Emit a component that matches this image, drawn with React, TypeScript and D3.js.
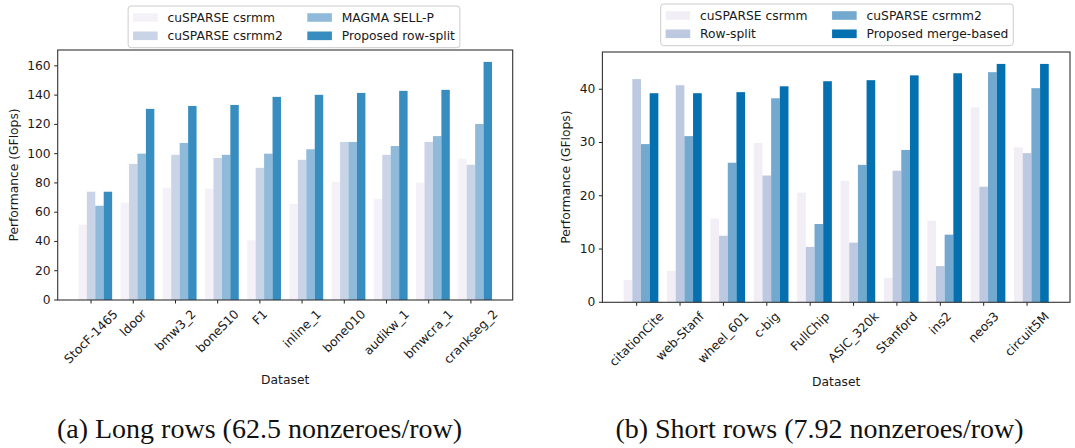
import React, { useEffect, useRef } from "react";
import * as d3 from "d3";

// (a) Long rows
const longDatasets = ["StocF-1465", "ldoor", "bmw3_2", "boneS10", "F1", "inline_1", "bone010", "audikw_1", "bmwcra_1", "crankseg_2"];
const longCsrmm = [51.5, 66.5, 76.7, 76, 40.8, 65.8, 80.8, 69.2, 80.2, 96.5];
const longCsrmm2 = [74, 93, 99.2, 97, 90.3, 95.8, 108, 99.2, 108, 92.4];
const longMagma = [64.4, 100, 107.3, 99.2, 100, 103, 108, 105.2, 112, 120.3];
const longRowSplit = [74, 130.6, 132.6, 133.3, 138.8, 140.2, 141.5, 142.9, 143.6, 162.7];
const longTicks = [0, 20, 40, 60, 80, 100, 120, 140, 160];
const longSeriesNames = ["cuSPARSE csrmm", "cuSPARSE csrmm2", "MAGMA SELL-P", "Proposed row-split"];

// (b) Short rows
const shortDatasets = ["citationCite", "web-Stanf", "wheel_601", "c-big", "FullChip", "ASIC_320k", "Stanford", "ins2", "neos3", "circuit5M"];
const shortCsrmm = [4.2, 5.9, 15.7, 29.9, 20.6, 22.8, 4.6, 15.3, 36.6, 29.1];
const shortRowSplit = [41.9, 40.75, 12.5, 23.8, 10.4, 11.2, 24.7, 6.8, 21.7, 28.0];
const shortCsrmm2 = [29.7, 31.2, 26.2, 38.3, 14.7, 25.8, 28.6, 12.7, 43.2, 40.2];
const shortMerge = [39.25, 39.25, 39.45, 40.55, 41.5, 41.7, 42.6, 43.0, 44.75, 44.75];
const shortTicks = [0, 10, 20, 30, 40];
const shortSeriesNames = ["cuSPARSE csrmm", "Row-split", "cuSPARSE csrmm2", "Proposed merge-based"];

const palette = ["#f1eef6", "#bdc9e1", "#74a9cf", "#0570b0"];

const FONT = "DejaVu Sans, sans-serif";
const FS = 12.3;

type Panel = {
  datasets: string[];
  series: number[][];
  names: string[];
  ticks: number[];
  opacity: number;
  x0: number;
  x1: number;
  yTop: number;
  yBottom: number;
  yLabelX: number;
  xLabelY: number;
  legendCx: number;
  legendTop: number;
  caption: string;
  captionCx: number;
};

const panels: Panel[] = [
  {
    datasets: longDatasets,
    series: [longCsrmm, longCsrmm2, longMagma, longRowSplit],
    names: longSeriesNames,
    ticks: longTicks,
    opacity: 0.8,
    x0: 57.7,
    x1: 512.7,
    yTop: 50,
    yBottom: 300,
    yLabelX: 14,
    xLabelY: 384,
    legendCx: 294,
    legendTop: 6,
    caption: "(a) Long rows (62.5 nonzeroes/row)",
    captionCx: 259.5,
  },
  {
    datasets: shortDatasets,
    series: [shortCsrmm, shortRowSplit, shortCsrmm2, shortMerge],
    names: shortSeriesNames,
    ticks: shortTicks,
    opacity: 1,
    x0: 602.4,
    x1: 1070,
    yTop: 52,
    yBottom: 302.3,
    yLabelX: 566,
    xLabelY: 386,
    legendCx: 837,
    legendTop: 4,
    caption: "(b) Short rows (7.92 nonzeroes/row)",
    captionCx: 819.5,
  },
];

function drawPanel(svg: d3.Selection<SVGSVGElement, unknown, null, undefined>, p: Panel) {
  const g = svg.append("g");
  const n = p.datasets.length;
  const barW = 0.2;
  const lo = -0.2 - barW / 2;
  const hi = n - 1 + 0.4 + barW / 2;
  const m = (hi - lo) * 0.05;
  const x = d3.scaleLinear().domain([lo - m, hi + m]).range([p.x0, p.x1]);
  const yMax = (d3.max(p.series.flat()) as number) * 1.05;
  const y = d3.scaleLinear().domain([0, yMax]).range([p.yBottom, p.yTop]);

  // bars
  p.series.forEach((vals, k) => {
    g.append("g")
      .selectAll("rect")
      .data(vals)
      .join("rect")
      .attr("x", (_, i) => x(i + (k - 1) * barW - barW / 2))
      .attr("width", x(barW) - x(0))
      .attr("y", (d) => y(d))
      .attr("height", (d) => y(0) - y(d))
      .attr("fill", palette[k])
      .attr("fill-opacity", p.opacity);
  });

  // y ticks
  const yt = g.append("g");
  p.ticks.forEach((t) => {
    yt.append("line")
      .attr("x1", p.x0 - 3.5).attr("x2", p.x0)
      .attr("y1", y(t)).attr("y2", y(t))
      .attr("stroke", "#222").attr("stroke-width", 1);
    yt.append("text")
      .attr("x", p.x0 - 7).attr("y", y(t))
      .attr("text-anchor", "end").attr("dominant-baseline", "central")
      .attr("font-family", FONT).attr("font-size", FS).attr("fill", "#1a1a1a")
      .text(String(t));
  });

  // x ticks with rotated labels
  const xt = g.append("g");
  p.datasets.forEach((name, i) => {
    const cx = x(i);
    xt.append("line")
      .attr("x1", cx).attr("x2", cx)
      .attr("y1", p.yBottom).attr("y2", p.yBottom + 3.5)
      .attr("stroke", "#222").attr("stroke-width", 1);
    const t = xt.append("text")
      .attr("text-anchor", "middle").attr("dominant-baseline", "central")
      .attr("font-family", FONT).attr("font-size", FS).attr("fill", "#1a1a1a")
      .text(name);
    const w = (t.node() as SVGTextElement).getComputedTextLength();
    const h = FS * 1.17;
    const bh = (w + h) * Math.SQRT1_2;
    const cy = p.yBottom + 7 + bh / 2;
    t.attr("transform", `translate(${cx},${cy}) rotate(-45)`);
  });

  // spines
  g.append("rect")
    .attr("x", p.x0).attr("y", p.yTop)
    .attr("width", p.x1 - p.x0).attr("height", p.yBottom - p.yTop)
    .attr("fill", "none").attr("stroke", "#333").attr("stroke-width", 1.1);

  // axis labels
  g.append("text")
    .attr("x", (p.x0 + p.x1) / 2).attr("y", p.xLabelY)
    .attr("text-anchor", "middle")
    .attr("font-family", FONT).attr("font-size", FS).attr("fill", "#1a1a1a")
    .text("Dataset");
  g.append("text")
    .attr("transform", `translate(${p.yLabelX},${(p.yTop + p.yBottom) / 2}) rotate(-90)`)
    .attr("text-anchor", "middle").attr("dominant-baseline", "central")
    .attr("font-family", FONT).attr("font-size", FS).attr("fill", "#1a1a1a")
    .text("Performance (GFlops)");

  // legend (two columns, filled column-wise)
  const lg = g.append("g");
  const box = lg.append("rect");
  const pad = 0.4 * FS;
  const handleL = 2 * FS;
  const handleH = 0.7 * FS;
  const textPad = 0.8 * FS;
  const colSpace = 2 * FS;
  const rowPitch = 18.3;
  const texts = p.names.map((nm) =>
    lg.append("text")
      .attr("font-family", FONT).attr("font-size", FS).attr("fill", "#1a1a1a")
      .attr("dominant-baseline", "central")
      .text(nm)
  );
  const widths = texts.map((t) => (t.node() as SVGTextElement).getComputedTextLength());
  const col1W = Math.max(widths[0], widths[1]);
  const col2W = Math.max(widths[2], widths[3]);
  const boxW = pad * 2 + handleL * 2 + textPad * 2 + col1W + colSpace + col2W;
  const boxH = 41.7;
  const left = p.legendCx - boxW / 2;
  box.attr("x", left).attr("y", p.legendTop)
    .attr("width", boxW).attr("height", boxH)
    .attr("rx", 3).attr("ry", 3)
    .attr("fill", "#fff").attr("fill-opacity", 0.8)
    .attr("stroke", "#cccccc").attr("stroke-width", 1);
  p.names.forEach((_, k) => {
    const col = Math.floor(k / 2);
    const row = k % 2;
    const hx = left + pad + col * (handleL + textPad + col1W + colSpace);
    const cy = p.legendTop + 11.5 + row * rowPitch;
    lg.append("rect")
      .attr("x", hx).attr("y", cy - handleH / 2)
      .attr("width", handleL).attr("height", handleH)
      .attr("fill", palette[k]).attr("fill-opacity", p.opacity);
    texts[k].attr("x", hx + handleL + textPad).attr("y", cy);
  });

  // caption
  g.append("text")
    .attr("x", p.captionCx).attr("y", 438)
    .attr("text-anchor", "middle")
    .attr("font-family", "Liberation Serif, Times New Roman, serif")
    .attr("font-size", 28).attr("fill", "#111")
    .text(p.caption);
}

export default function App() {
  const ref = useRef<SVGSVGElement | null>(null);
  useEffect(() => {
    if (!ref.current) return;
    const svg = d3.select(ref.current);
    svg.selectAll("*").remove();
    svg.append("rect").attr("width", 1075).attr("height", 448).attr("fill", "#fff");
    panels.forEach((p) => drawPanel(svg, p));
  }, []);
  return (
    <svg
      ref={ref}
      width={1075}
      height={448}
      style={{ position: "absolute", left: 0, top: 0, display: "block" }}
    />
  );
}
